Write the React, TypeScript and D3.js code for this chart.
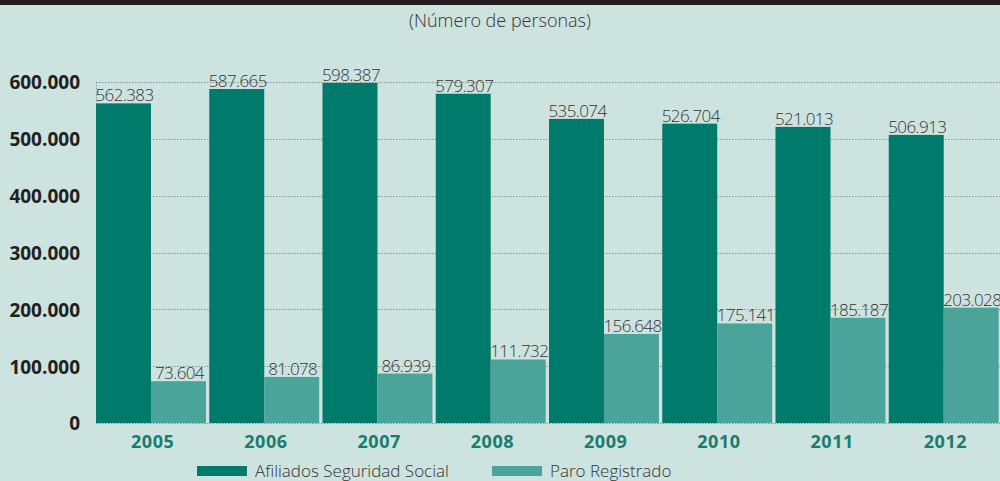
import React, { useEffect, useRef } from 'react';
import * as d3 from 'd3';

// Chart data
const years = ['2005', '2006', '2007', '2008', '2009', '2010', '2011', '2012'];
const afiliados = [562383, 587665, 598387, 579307, 535074, 526704, 521013, 506913];
const paro = [73604, 81078, 86939, 111732, 156648, 175141, 185187, 203028];
const yTicks = [0, 100000, 200000, 300000, 400000, 500000, 600000];
const seriesNames = ['Afiliados Seguridad Social', 'Paro Registrado'];

const width = 1000;
const height = 481;
const margin = { top: 82, right: -2, bottom: 58, left: 96 };

const colors = ['#007b6b', '#4aa49a'];
const bg = '#cde3e0';

const locale = d3.formatLocale({ decimal: ',', thousands: '.', grouping: [3], currency: ['', ''] });
const fmt = locale.format(',d');

const App = () => {
  const svgRef = useRef<SVGSVGElement>(null);

  useEffect(() => {
    const svg = d3.select(svgRef.current);
    svg.selectAll('*').remove();

    svg.append('rect').attr('width', width).attr('height', height).attr('fill', bg);
    // dark title strip, cut off at the top
    svg.append('rect').attr('width', width).attr('height', 5).attr('fill', '#231f20');

    svg
      .append('text')
      .attr('x', 500)
      .attr('y', 27)
      .attr('text-anchor', 'middle')
      .style('font-family', '"Open Sans", sans-serif')
      .style('font-weight', 300)
      .style('font-size', '18px')
      .style('fill', '#333')
      .text('(Número de personas)');

    const x = d3
      .scaleBand()
      .domain(years)
      .range([margin.left, width - margin.right])
      .padding(0);

    const inner = d3.scaleBand().domain(['a', 'p']).range([0, x.bandwidth() - 3.3]).padding(0);

    const y = d3
      .scaleLinear()
      .domain([0, 600000])
      .range([height - margin.bottom, margin.top]);

    // dotted grid lines
    svg
      .append('g')
      .selectAll('line')
      .data(yTicks)
      .enter()
      .append('line')
      .attr('x1', margin.left)
      .attr('x2', width)
      .attr('y1', (d) => Math.round(y(d)) + 0.5)
      .attr('y2', (d) => Math.round(y(d)) + 0.5)
      .attr('stroke', '#8a9593')
      .attr('stroke-width', 1)
      .attr('stroke-dasharray', '1.5,1.5');

    // left edge dotted line at top
    svg
      .append('line')
      .attr('x1', margin.left + 0.5)
      .attr('x2', margin.left + 0.5)
      .attr('y1', y(600000))
      .attr('y2', y(afiliados[0]))
      .attr('stroke', '#8a9593')
      .attr('stroke-dasharray', '1.5,1.5');

    // y axis labels
    const yAxis = svg
      .append('g')
      .attr('transform', `translate(${margin.left - 16}, 0)`)
      .call(d3.axisLeft(y).tickValues(yTicks).tickSize(0).tickFormat((d) => fmt(+d)));
    yAxis.select('.domain').remove();
    yAxis
      .selectAll('text')
      .attr('x', 0)
      .attr('dy', '0.36em')
      .style('font-family', '"Open Sans", sans-serif')
      .style('font-weight', 700)
      .style('font-size', '19px')
      .style('fill', '#231f20');

    const groups = svg
      .append('g')
      .selectAll('g')
      .data(years)
      .enter()
      .append('g')
      .attr('transform', (d) => `translate(${x(d)}, 0)`);

    const series = [
      { key: 'a', values: afiliados, color: colors[0] },
      { key: 'p', values: paro, color: colors[1] },
    ];

    series.forEach((s) => {
      groups
        .append('rect')
        .attr('x', inner(s.key)!)
        .attr('y', (d, i) => y(s.values[i]))
        .attr('width', inner.bandwidth())
        .attr('height', (d, i) => y(0) - y(s.values[i]))
        .attr('fill', s.color);

      groups
        .append('text')
        .attr('x', inner(s.key)! + inner.bandwidth() / 2 + 1)
        .attr('y', (d, i) => y(s.values[i]) - 2)
        .attr('text-anchor', 'middle')
        .style('font-family', '"Open Sans", sans-serif')
        .style('font-weight', 300)
        .style('font-size', '17px')
        .style('letter-spacing', '-0.6px')
        .style('fill', '#333')
        .text((d, i) => fmt(s.values[i]));
    });

    // x axis labels
    const xAxis = svg
      .append('g')
      .attr('transform', `translate(0, ${y(0)})`)
      .call(d3.axisBottom(x).tickSize(0));
    xAxis.select('.domain').remove();
    xAxis
      .selectAll('text')
      .attr('y', 25)
      .attr('dy', 0)
      .style('font-family', '"Open Sans", sans-serif')
      .style('font-weight', 700)
      .style('font-size', '18px')
      .style('letter-spacing', '0.5px')
      .style('fill', '#1a7d6e');

    // legend
    const legendX = [197, 492];
    seriesNames.forEach((name, i) => {
      const g = svg.append('g').attr('transform', `translate(${legendX[i]}, 466)`);
      g.append('rect').attr('width', 50).attr('height', 10).attr('fill', colors[i]);
      g.append('text')
        .attr('x', 58)
        .attr('y', 10.5)
        .style('font-family', '"Open Sans", sans-serif')
        .style('font-weight', 300)
        .style('font-size', '17px')
        .style('fill', '#333')
        .text(name);
    });
  }, []);

  return (
    <div style={{ position: 'absolute', top: 0, left: 0 }}>
      <svg ref={svgRef} width={width} height={height} style={{ display: 'block' }}></svg>
    </div>
  );
};

export default App;
